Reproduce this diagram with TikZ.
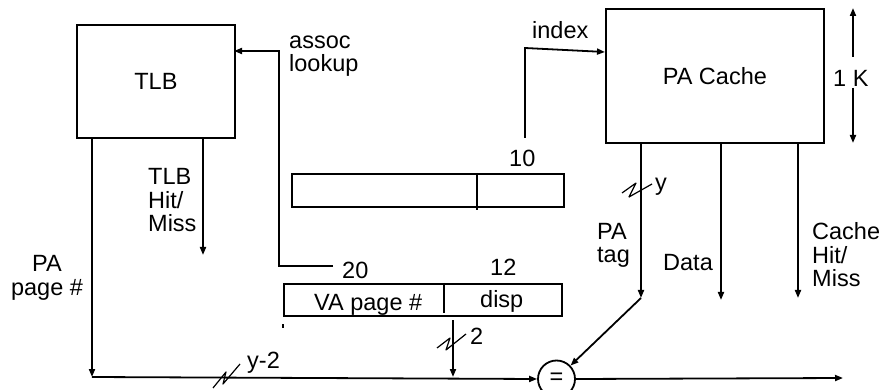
\documentclass[tikz,border=0pt]{standalone}
\usepackage{fontspec}
\setmainfont{Liberation Sans}
\usetikzlibrary{arrows.meta,calc}
\begin{document}
\begin{tikzpicture}[x=1pt,y=-1pt,
  wire/.style={line width=1.8pt},
  arr/.style={wire,-{Triangle[length=8pt,width=6pt]}},
  box/.style={draw,line width=1.8pt,inner sep=0pt,anchor=north west},
  lbl/.style={inner sep=0pt,align=left,anchor=base west},
  busmark/.style={line width=1.2pt,line join=round},
  every node/.style={font=\fontsize{23.5}{23.5}\selectfont}]
\useasboundingbox (0,0) rectangle (884,390);

% main blocks
\node[box,minimum width=158pt,minimum height=113pt] (tlb) at (76,24) {};
\node at (tlb.center) {TLB};
\node[box,minimum width=218pt,minimum height=134pt] (cache) at (605,8) {};
\node at (cache.center) {PA Cache};

% registers
\node[box,minimum width=272pt,minimum height=33pt] (ureg) at (291,173) {};
\coordinate (udivtop) at (477,173);
\coordinate (udivbot) at (477,210);
\draw[wire] (udivtop) -- (udivbot);
\node[box,minimum width=278pt,minimum height=32pt] (lreg) at (283,283) {};
\coordinate (ldivtop) at (444,283);
\coordinate (ldivbot) at (444,313);
\draw[wire] (ldivtop) -- (ldivbot);
\node[fill=black,inner sep=0pt,minimum width=2pt,minimum height=4pt] (tick) at (283,326) {};

% comparator
\node[draw,circle,line width=1.8pt,minimum size=37pt,inner sep=0pt] (cmp) at (556.5,379) {=};

% coordinates
\coordinate (assocA) at (333,266);
\coordinate (assocB) at (279,266);
\coordinate (assocC) at (279,51);
\coordinate (tlbin) at (234,51);
\coordinate (idxA) at (525,138);
\coordinate (idxB) at (525,48);
\coordinate (cachein) at (605,52);
\coordinate (ppA) at (92,138);
\coordinate (ppB) at (92,377);
\coordinate (thA) at (203,138);
\coordinate (thB) at (203,255);
\coordinate (tagA) at (641,143);
\coordinate (tagB) at (641,298);
\coordinate (dataA) at (721,143);
\coordinate (dataB) at (721,300);
\coordinate (chA) at (798,143);
\coordinate (chB) at (798,298);
\coordinate (dispA) at (453,320);
\coordinate (dispB) at (453,377);
\coordinate (outB) at (843,378);
\coordinate (kA) at (853,57);
\coordinate (kB) at (853,8);
\coordinate (kC) at (853,88);
\coordinate (kD) at (853,143);

% connectors
\draw[arr] (assocA) -- (assocB) -- (assocC) -- (tlbin);
\draw[arr] (idxA) -- (idxB) -- (cachein);
\draw[arr] (ppA) -- (ppB);
\draw[arr] (ppB) -- (cmp.west);
\draw[arr] (thA) -- (thB);
\draw[arr] (tagA) -- (tagB);
\draw[arr] (tagB) -- (cmp);
\draw[arr] (dataA) -- (dataB);
\draw[arr] (chA) -- (chB);
\draw[arr] (dispA) -- (dispB);
\draw[arr] (cmp.east) -- (outB);
\draw[arr] (kA) -- (kB);
\draw[arr] (kC) -- (kD);

% bus width marks
\draw[busmark] (622,193) -- (636,183) -- (629,197) -- (652,184);
\draw[busmark] (437,348) -- (450,338) -- (446,350) -- (466,334);
\draw[busmark] (213,388) -- (226,372) -- (223,384) -- (240,364);

% labels (multi-line labels: anchor at baseline of the last line)
\node[lbl] (lassoc) at (289,72) {assoc\\lookup};
\node[lbl] (lindex) at (532,39) {index};
\node[lbl] (l10) at (509,167) {10};
\node[lbl] (l20) at (342,279) {20};
\node[lbl] (l12) at (490,276) {12};
\node[lbl] (lva) at (314,311) {VA page \#};
\node[lbl] (ldisp) at (480,307) {disp};
\node[lbl] (ly) at (655,191) {y};
\node[lbl] (l2) at (470,344) {2};
\node[lbl] (ly2) at (247,368) {y-2};
\node[lbl] (lth) at (148,232) {TLB\\Hit/\\Miss};
\node[inner sep=0pt,align=center,anchor=base] (lpp) at (47,295) {PA\\page \#};
\node[lbl] (ltag) at (597,263) {PA\\tag};
\node[lbl] (ldata) at (663,271) {Data};
\node[lbl] (lch) at (812,287) {Cache\\Hit/\\Miss};
\node[lbl] (lk) at (833,87) {1 K};
\end{tikzpicture}
\end{document}
